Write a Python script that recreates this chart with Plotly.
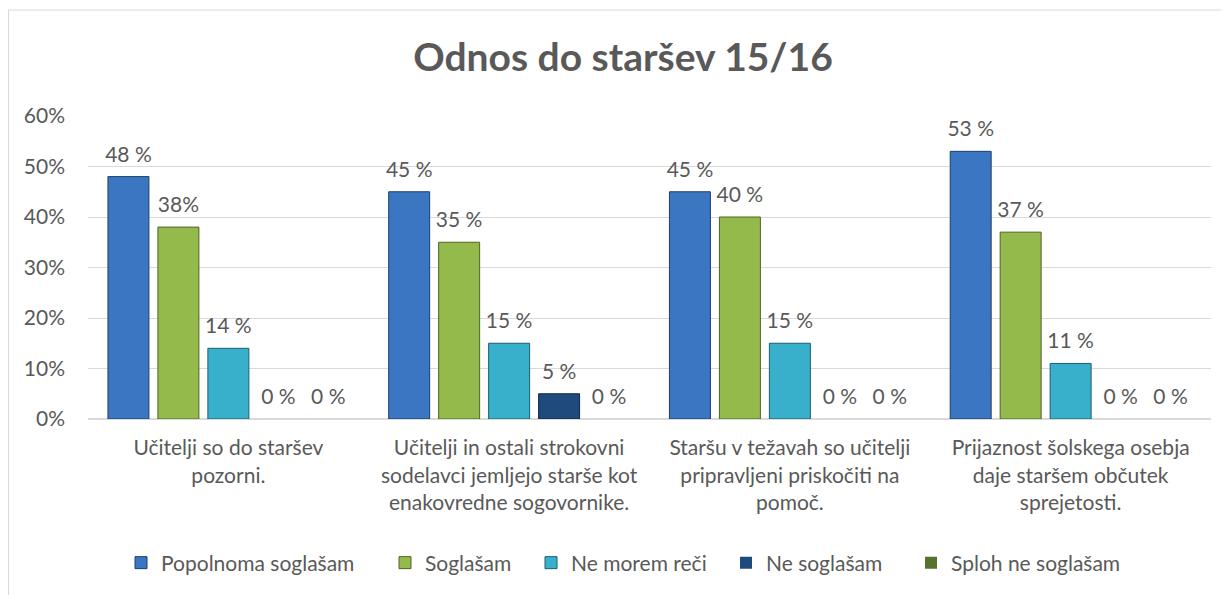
import plotly.graph_objects as go

categories = [
    "Učitelji so do staršev<br>pozorni.",
    "Učitelji in ostali strokovni<br>sodelavci jemljejo starše kot<br>enakovredne sogovornike.",
    "Staršu v težavah so učitelji<br>pripravljeni priskočiti na<br>pomoč.",
    "Prijaznost šolskega osebja<br>daje staršem občutek<br>sprejetosti.",
]
series_names = ["Popolnoma soglašam", "Soglašam", "Ne morem reči", "Ne soglašam", "Sploh ne soglašam"]
popolnoma = [0.48, 0.45, 0.45, 0.53]
soglasam = [0.38, 0.35, 0.40, 0.37]
ne_morem = [0.14, 0.15, 0.15, 0.11]
ne_soglasam = [0.0, 0.05, 0.0, 0.0]
sploh_ne = [0.0, 0.0, 0.0, 0.0]
labels_popolnoma = ["48 %", "45 %", "45 %", "53 %"]
labels_soglasam = ["38%", "35 %", "40 %", "37 %"]
labels_ne_morem = ["14 %", "15 %", "15 %", "11 %"]
labels_ne_soglasam = ["0 %", "5 %", "0 %", "0 %"]
labels_sploh_ne = ["0 %", "0 %", "0 %", "0 %"]
y_ticks = [0, 0.1, 0.2, 0.3, 0.4, 0.5, 0.6]

values = [popolnoma, soglasam, ne_morem, ne_soglasam, sploh_ne]
labels = [labels_popolnoma, labels_soglasam, labels_ne_morem, labels_ne_soglasam, labels_sploh_ne]
fill_colors = ["#3B76C2", "#94BA4B", "#38AFCB", "#1F4A7E", "#56722C"]
line_colors = ["#1E3F6B", "#4E6424", "#1B5E70", "#0F2642", "#2C3C15"]

FONT = "Lato, 'Open Sans', sans-serif"
TXT = "#595959"
FS = 21

# left pixel position of each legend entry (layout only)
legend_x = [133, 397, 543, 738, 923]
legend_ids = ["legend", "legend2", "legend3", "legend4", "legend5"]

fig = go.Figure()
for name, vals, fc, lc, lid in zip(series_names, values, fill_colors, line_colors, legend_ids):
    fig.add_trace(go.Bar(
        name=name, x=categories, y=vals, offsetgroup=name, legend=lid,
        marker=dict(color=fc, line=dict(color=lc, width=[1 if v > 0 else 0 for v in vals])),
        hoverinfo="skip",
    ))
# data labels, placed in the same grouped slots as the bars
for name, vals, labs in zip(series_names, values, labels):
    fig.add_trace(go.Scatter(
        x=categories, y=vals, text=labs, offsetgroup=name,
        mode="markers+text", textposition="top center",
        marker=dict(size=14, opacity=0),
        textfont=dict(family=FONT, size=FS, color=TXT),
        cliponaxis=False, showlegend=False, hoverinfo="skip",
    ))

legend_layout = {}
for lid, lx in zip(legend_ids, legend_x):
    legend_layout[lid] = dict(
        orientation="h", x=(lx - 8 - 12) / 1229, xanchor="left", xref="container",
        y=1 - 555 / 595, yanchor="middle", yref="container",
        font=dict(family=FONT, size=FS, color=TXT), itemwidth=30,
        bgcolor="rgba(0,0,0,0)",
    )

fig.update_layout(
    width=1229, height=595,
    paper_bgcolor="white", plot_bgcolor="white",
    margin=dict(l=80, r=26, t=108, b=184, autoexpand=False),
    barmode="group", bargap=0.11, bargroupgap=0.18,
    scattermode="group", scattergap=0.11,
    title=dict(text="<b>Odnos do staršev 15/16</b>", x=615 / 1229, xanchor="center",
               xref="container", y=1 - 49 / 595, yanchor="middle", yref="container",
               font=dict(family=FONT, size=39, color=TXT)),
    font=dict(family=FONT, size=FS, color=TXT),
    showlegend=True,
    **legend_layout,
)
fig.update_yaxes(range=[0, 0.6], tickvals=y_ticks, tickformat=".0%",
                 gridcolor="#D9D9D9", gridwidth=1, zeroline=True, zerolinecolor="#D9D9D9",
                 showline=False, ticks="", ticklabelstandoff=22,
                 tickfont=dict(family=FONT, size=FS, color=TXT), fixedrange=True)
fig.update_xaxes(showline=True, linecolor="#D9D9D9", ticks="", ticklabelstandoff=10,
                 tickfont=dict(family=FONT, size=FS, color=TXT), tickangle=0)

# chart-area frame (left and top edges)
fx = (0.5 - 80) / 1123
fy_top = 1 + (108 - 2) / 303
fy_bot = -(595 - 411) / 303
fig.add_shape(type="line", xref="paper", yref="paper", x0=fx, x1=fx, y0=fy_bot, y1=fy_top,
              line=dict(color="#D9D9D9", width=1))
fig.add_shape(type="line", xref="paper", yref="paper", x0=fx, x1=(1229 - 80) / 1123,
              y0=fy_top, y1=fy_top, line=dict(color="#D9D9D9", width=1))

fig.write_html("out.html")
